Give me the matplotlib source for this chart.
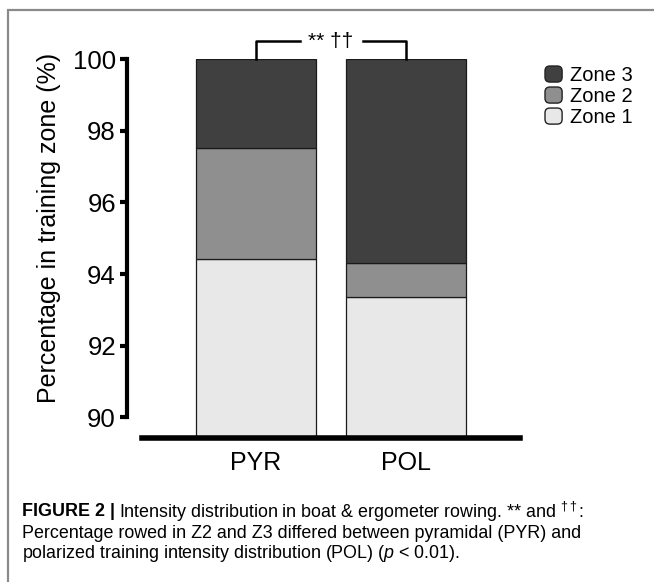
import matplotlib
matplotlib.use("Agg")
import matplotlib.pyplot as plt
from matplotlib.patches import Rectangle, FancyBboxPatch
from matplotlib.legend_handler import HandlerPatch

# data (% of training in each zone)
groups = ["PYR", "POL"]
zone1 = [94.41, 93.35]
zone2 = [3.10, 0.95]      # 94.41 -> 97.51, 93.35 -> 94.30
zone3 = [2.49, 5.70]
zone_labels = ["Zone 1", "Zone 2", "Zone 3"]
zone_colors = ["#e8e8e8", "#8f8f8f", "#404040"]
yticks = [90, 92, 94, 96, 98, 100]

plt.rcParams["font.family"] = ["Liberation Sans", "DejaVu Sans"]
plt.rcParams["mathtext.fontset"] = "custom"
plt.rcParams["mathtext.rm"] = "Liberation Sans"
plt.rcParams["mathtext.it"] = "Liberation Sans:italic"

W, H = 654, 582
fig = plt.figure(figsize=(W / 100, H / 100), dpi=100)

# gray frame (cut off at the right and bottom)
fig.add_artist(Rectangle((7.5 / W, -0.1), 1.2, (H - 9.5) / H + 0.1,
                         transform=fig.transFigure, fill=False,
                         edgecolor="#8a8a8a", linewidth=1.6))

# axes placed in pixels
x0, x1 = 127, 520
y0, y1 = 438.3, 59.3
ax = fig.add_axes([x0 / W, (H - y0) / H, (x1 - x0) / W, (y0 - y1) / H])

x = [0, 1]
bot2 = list(zone1)
bot3 = [a + b for a, b in zip(zone1, zone2)]
kw = dict(edgecolor="#1a1a1a", linewidth=0.9)
bars = []
bars.append(ax.bar(x, zone1, 0.8, color=zone_colors[0], **kw))
bars.append(ax.bar(x, zone2, 0.8, bottom=bot2, color=zone_colors[1], **kw))
bars.append(ax.bar(x, zone3, 0.8, bottom=bot3, color=zone_colors[2], **kw))

ax.set_xlim(-0.86, 1.76)
ax.set_ylim(89.41, 100)
ax.spines["top"].set_visible(False)
ax.spines["right"].set_visible(False)
ax.spines["left"].set_bounds(90, 100)
ax.spines["left"].set_linewidth(3)
ax.spines["bottom"].set_bounds(-0.76, 1.76)
ax.spines["bottom"].set_linewidth(4)
ax.set_yticks(yticks)
ax.tick_params(axis="y", length=5, width=3, labelsize=18.5, pad=3)
ax.set_xticks(x)
ax.set_xticklabels(groups)
ax.tick_params(axis="x", length=0, labelsize=18, pad=9)
ax.set_ylabel("Percentage in training zone (%)", fontsize=18)
ax.yaxis.set_label_coords(-0.167, 0.555)

# significance bracket
top = 100.0
h = 100.51
ax.plot([0, 0, 0.29], [top, h, h], color="black", lw=1.8, clip_on=False)
ax.plot([0.71, 1, 1], [h, h, top], color="black", lw=1.8, clip_on=False)
ax.text(0.5, h, "** \u2020\u2020", ha="center", va="center", fontsize=15, clip_on=False)


class RoundBox(HandlerPatch):
    def create_artists(self, legend, orig_handle, xdescent, ydescent,
                       width, height, fontsize, trans):
        p = FancyBboxPatch((-xdescent, -ydescent), width, height,
                           boxstyle="round,pad=0,rounding_size=3.5",
                           facecolor=orig_handle.get_facecolor(),
                           edgecolor="#222222", linewidth=1.0, transform=trans)
        return [p]


# legend, Zone 3 on top
leg = ax.legend([b[0] for b in bars[::-1]], zone_labels[::-1],
                handler_map={Rectangle: RoundBox()},
                loc="upper left", bbox_to_anchor=(545 / W, (H - 66) / H),
                bbox_transform=fig.transFigure, frameon=False, fontsize=14.5,
                handlelength=0.85, handleheight=0.85, handletextpad=0.38,
                labelspacing=0.1, borderaxespad=0, borderpad=0)

# caption
fs = 12.9
t0 = fig.text(22 / W, 1 - 512 / H, "FIGURE 2 |", fontsize=fs, fontweight="bold",
              va="center")
fig.canvas.draw()
bb = t0.get_window_extent()
fig.text(bb.x1 / W + 4 / W, 1 - 512 / H,
         r"Intensity distribution in boat & ergometer rowing. ** and $^{\dagger\dagger}$:",
         fontsize=fs, va="center")
fig.text(22 / W, 1 - 533 / H,
         "Percentage rowed in Z2 and Z3 differed between pyramidal (PYR) and",
         fontsize=fs, va="center")
fig.text(22 / W, 1 - 554 / H,
         r"polarized training intensity distribution (POL) ($p$ < 0.01).",
         fontsize=fs, va="center")

fig.savefig("out.png", dpi=100)
